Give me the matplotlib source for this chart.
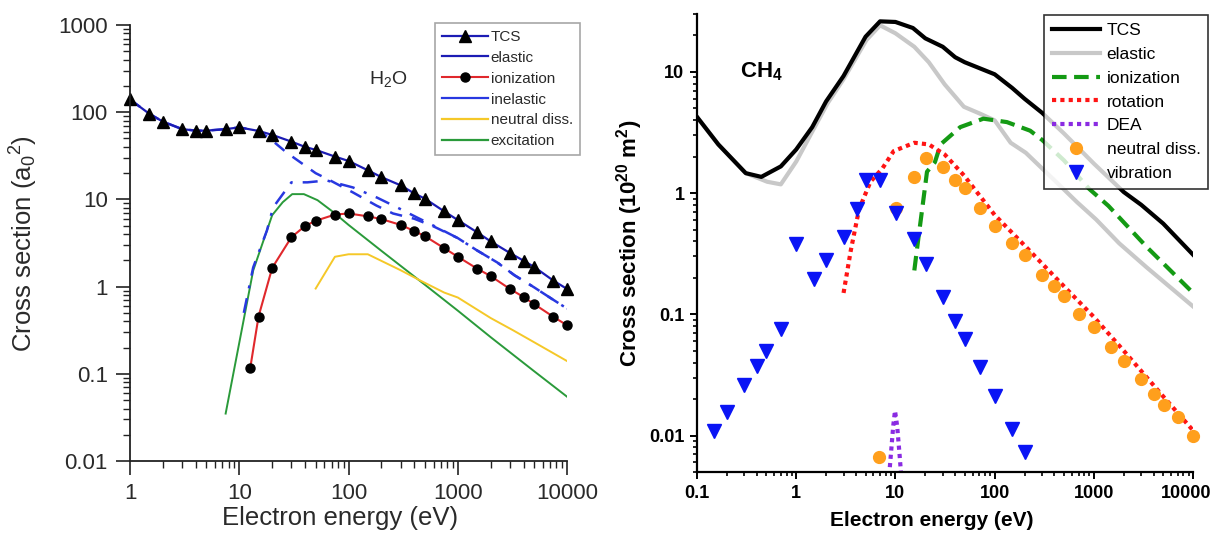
import matplotlib
matplotlib.use("Agg")
import matplotlib.pyplot as plt
from matplotlib.lines import Line2D
from matplotlib.ticker import LogLocator, FuncFormatter, NullFormatter, FixedLocator
from matplotlib.transforms import ScaledTranslation

plt.rcParams['font.family'] = ['Liberation Sans', 'DejaVu Sans']
plt.rcParams['mathtext.fontset'] = 'custom'
plt.rcParams['mathtext.rm'] = 'Liberation Sans'
plt.rcParams['mathtext.it'] = 'Liberation Sans:italic'
plt.rcParams['mathtext.bf'] = 'Liberation Sans:bold'
plt.rcParams['mathtext.default'] = 'regular'

# ---------------- H2O (left panel) ----------------
h2o_tcs_e = [1, 1.5, 2, 3, 4, 5, 7.5, 10, 15, 20, 30, 40, 50, 75, 100, 150, 200,
             300, 400, 500, 750, 1000, 1500, 2000, 3000, 4000, 5000, 7500, 10000]
h2o_tcs = [140, 96, 78, 64, 61.5, 61.5, 64, 67, 61, 55, 46, 40, 37, 31, 27.6, 21.6, 18,
           14.5, 11.7, 10.2, 7.3, 5.8, 4.2, 3.3, 2.43, 1.98, 1.68, 1.17, 0.94]

h2o_el_e = [1, 1.5, 2, 3, 4, 5, 7.5, 10, 15, 19, 27, 50, 68, 110, 180, 255, 400,
            600, 1000, 1500, 2300, 3300, 5000, 7300, 10000]
h2o_el = [140, 96, 78, 64, 61.5, 61.5, 64, 67, 61, 50, 34.6, 20, 16.5, 12, 8.5, 6.9, 6.0,
          4.9, 3.6, 2.6, 1.89, 1.35, 0.98, 0.72, 0.56]

h2o_ion_e = [12.6, 15, 20, 30, 40, 50, 75, 100, 150, 200, 300, 400, 500, 750, 1000,
             1500, 2000, 3000, 4000, 5000, 7500, 10000]
h2o_ion = [0.117, 0.454, 1.64, 3.69, 4.96, 5.69, 6.7, 6.9, 6.4, 5.95, 5.1, 4.34, 3.79, 2.76, 2.2,
           1.61, 1.32, 0.94, 0.76, 0.63, 0.45, 0.36]

h2o_inel_e = [11, 13.4, 17.9, 20.4, 30, 42, 63, 110, 182, 278, 424, 600, 1000, 1500,
              2300, 3300, 5000, 7300, 10000]
h2o_inel = [0.5, 1.66, 4.4, 8.1, 15.7, 15.7, 16.5, 13.7, 10.5, 8.1, 6.2, 5.0, 3.6, 2.6,
            1.89, 1.35, 0.98, 0.72, 0.56]

h2o_nd_e = [50, 75, 100, 150, 300, 456, 750, 1000, 2000, 3200, 5000, 10000]
h2o_nd = [0.95, 2.2, 2.35, 2.35, 1.54, 1.17, 0.855, 0.75, 0.436, 0.316, 0.23, 0.14]

h2o_exc_e = [7.5, 13.4, 20, 25, 30.5, 39, 52, 72, 100, 200, 500, 1000, 2000, 5000, 10000]
h2o_exc = [0.035, 1.53, 6.6, 9.3, 11.5, 11.5, 9.8, 7.2, 5.1, 2.57, 1.05, 0.53, 0.263, 0.107, 0.0546]

# ---------------- CH4 (right panel) ----------------
ch4_tcs_e = [0.1, 0.164, 0.31, 0.445, 0.7, 1.0, 1.45, 2.0, 3.0, 5.0, 7.0, 10, 15, 20, 30,
             40, 50, 100, 150, 200, 300, 500, 1000, 2000, 3000, 5000, 10000]
ch4_tcs = [4.25, 2.52, 1.46, 1.36, 1.66, 2.29, 3.5, 5.7, 9.25, 19.5, 26.1, 25.8, 23, 18.9, 16.1,
           13.2, 12.0, 9.55, 7.37, 6.0, 4.6, 3.1, 1.75, 1.02, 0.8, 0.56, 0.31]

ch4_el_e = [0.1, 0.164, 0.31, 0.51, 0.7, 1.0, 1.5, 2.07, 3.0, 5.1, 7.0, 10, 15.5, 21.7, 31.4,
            49, 70.7, 100, 145, 206, 300, 472, 678, 1055, 1800, 3400, 10000]
ch4_el = [4.25, 2.52, 1.46, 1.24, 1.18, 1.82, 3.38, 5.5, 8.7, 18.3, 24.2, 20.8, 16.1, 12.0, 7.87,
          5.15, 4.53, 3.98, 2.6, 2.15, 1.6, 1.12, 0.84, 0.605, 0.385, 0.244, 0.116]

ch4_ion_e = [15.5, 17, 18, 20.8, 25, 28.5, 45, 77, 133, 228, 300, 500, 889, 1400, 3400, 10000]
ch4_ion = [0.23, 0.42, 0.6, 1.5, 1.8, 2.52, 3.5, 4.11, 3.85, 3.27, 2.75, 1.86, 1.09, 0.785, 0.36, 0.15]

ch4_rot_e = [3.0, 3.55, 4.3, 5.6, 7.4, 9.6, 15.5, 21.7, 31.4, 49, 100, 200, 500, 1000,
             2000, 5000, 10000]
ch4_rot = [0.15, 0.337, 0.736, 1.24, 1.6, 2.22, 2.6, 2.52, 2.08, 1.4, 0.66, 0.37, 0.17, 0.095,
           0.05, 0.021, 0.011]

ch4_dea_e = [8.5, 9.0, 9.5, 9.9, 10.4, 11.0, 11.6]
ch4_dea = [0.004, 0.007, 0.012, 0.016, 0.012, 0.007, 0.004]

ch4_nd_e = [6.9, 10.1, 15.5, 20.3, 30, 40, 50, 70.7, 100, 149, 204, 303, 400, 505, 705,
            1010, 1500, 2020, 3000, 4000, 5050, 7000, 10000]
ch4_nd = [0.0067, 0.75, 1.36, 1.95, 1.63, 1.28, 1.1, 0.76, 0.54, 0.39, 0.31, 0.21, 0.17, 0.142, 0.1,
          0.079, 0.054, 0.041, 0.029, 0.022, 0.018, 0.0142, 0.01]

ch4_vib_e = [0.15, 0.2, 0.3, 0.4, 0.5, 0.7, 1.0, 1.5, 2.0, 3.0, 4.1, 5.0, 7.0, 10.1, 15.5,
             20.3, 30, 40, 50, 70.7, 100, 149, 204]
ch4_vib = [0.011, 0.0157, 0.026, 0.0376, 0.0498, 0.0759, 0.38, 0.195, 0.278, 0.438, 0.736, 1.28,
           1.28, 0.69, 0.42, 0.26, 0.14, 0.0875, 0.0624, 0.0367, 0.021, 0.0114, 0.0073]

ch4_xticks = [0.1, 1, 10, 100, 1000, 10000]


def plain(v, pos):
    return '{:g}'.format(v)


fig = plt.figure(figsize=(12.13, 5.37), dpi=100)

# ---- left ----
txt = '#2a2a2a'
ax1 = fig.add_axes([0.1072, 0.1415, 0.3603, 0.8119])
ax1.set_xscale('log')
ax1.set_yscale('log')
blue = '#1c1cb4'
ax1.plot(h2o_exc_e, h2o_exc, color='#2a9a3a', lw=1.4)
ax1.plot(h2o_nd_e, h2o_nd, color='#f5c828', lw=1.4)
ax1.plot(h2o_inel_e, h2o_inel, color='#2838e0', lw=1.8, ls=(0, (6, 4, 1.2, 4)))
ax1.plot(h2o_el_e, h2o_el, color='#2838e0', lw=1.8, ls=(0, (5, 4)))
ax1.plot(h2o_ion_e, h2o_ion, color='#e0282c', lw=1.5, marker='o', ms=6.5,
         mfc='black', mec='black', clip_on=False)
ax1.plot(h2o_tcs_e, h2o_tcs, color=blue, lw=1.6, marker='^', ms=8,
         mfc='black', mec='black', clip_on=False)
ax1.set_xlim(1, 10000)
ax1.set_ylim(0.01, 1000)
for s in ['top', 'right']:
    ax1.spines[s].set_visible(False)
for s in ['left', 'bottom']:
    ax1.spines[s].set_linewidth(1.3)
    ax1.spines[s].set_color('#222222')
ax1.xaxis.set_major_formatter(FuncFormatter(plain))
ax1.yaxis.set_major_formatter(FuncFormatter(plain))
ax1.xaxis.set_minor_formatter(NullFormatter())
ax1.yaxis.set_minor_formatter(NullFormatter())
ax1.xaxis.set_minor_locator(LogLocator(base=10, subs=range(2, 10), numticks=20))
ax1.yaxis.set_minor_locator(LogLocator(base=10, subs=range(2, 10), numticks=20))
ax1.tick_params(which='major', length=10, width=1.2, labelsize=16, colors='#222222',
                labelcolor=txt, pad=6)
ax1.tick_params(which='minor', length=5, width=1.0, colors='#222222')
ax1.set_xlabel('Electron energy (eV)', fontsize=18.5, color=txt)
ax1.set_ylabel('Cross section (a$_0$$^2$)', fontsize=18.5, color=txt)
ax1.xaxis.set_label_coords(0.48, -0.103)
ax1.yaxis.set_label_coords(-0.205, 0.5)
fig.text(0.32, 0.853, 'H$_2$O', fontsize=14, color=txt, ha='center', va='center')

h1 = [Line2D([], [], color=blue, lw=1.6, marker='^', ms=8, mfc='black', mec='black'),
      Line2D([], [], color=blue, lw=1.6),
      Line2D([], [], color='#e0282c', lw=1.5, marker='o', ms=6.5, mfc='black', mec='black'),
      Line2D([], [], color='#2838e0', lw=1.6),
      Line2D([], [], color='#f5c828', lw=1.6),
      Line2D([], [], color='#2a9a3a', lw=1.6)]
l1 = ['TCS', 'elastic', 'ionization', 'inelastic', 'neutral diss.', 'excitation']
leg1 = fig.legend(h1, l1, loc='upper left', bbox_to_anchor=(0.3586, 0.957),
                  fontsize=11, frameon=True, fancybox=False, numpoints=1,
                  handlelength=3.0, handletextpad=0.2, labelspacing=0.45,
                  borderpad=0.45, borderaxespad=0)
leg1.get_frame().set_edgecolor('#909090')
leg1.get_frame().set_linewidth(1.2)
for t in leg1.get_texts():
    t.set_color(txt)

# ---- right ----
ax2 = fig.add_axes([0.5746, 0.1210, 0.4090, 0.8529])
ax2.set_xscale('log')
ax2.set_yscale('log')
ax2.plot(ch4_el_e, ch4_el, color='#c8c8c8', lw=3, label='elastic')
ax2.plot(ch4_tcs_e, ch4_tcs, color='black', lw=3, label='TCS')
ax2.plot(ch4_ion_e, ch4_ion, color='#149a14', lw=3, ls=(0, (3.5, 1.8)), label='ionization')
ax2.plot(ch4_rot_e, ch4_rot, color='#ff1414', lw=3, ls=(0, (1, 1)), label='rotation')
ax2.plot(ch4_dea_e, ch4_dea, color='#8a2be2', lw=3, ls=(0, (1, 1)), label='DEA')
ax2.plot(ch4_nd_e, ch4_nd, ls='none', marker='o', ms=8.5, color='#ff9f1c',
         label='neutral diss.', clip_on=False)
ax2.plot(ch4_vib_e, ch4_vib, ls='none', marker='v', ms=10, color='#0a14f5',
         label='vibration', clip_on=False)
ax2.set_xlim(0.1, 10000)
ax2.set_ylim(0.005, 30)
for s in ['top', 'right']:
    ax2.spines[s].set_visible(False)
for s in ['left', 'bottom']:
    ax2.spines[s].set_linewidth(1.6)
ax2.xaxis.set_major_locator(FixedLocator(ch4_xticks))
ax2.xaxis.set_major_formatter(FuncFormatter(plain))
ax2.yaxis.set_major_formatter(FuncFormatter(plain))
ax2.xaxis.set_minor_formatter(NullFormatter())
ax2.yaxis.set_minor_formatter(NullFormatter())
ax2.xaxis.set_minor_locator(LogLocator(base=10, subs=range(2, 10), numticks=20))
ax2.yaxis.set_minor_locator(LogLocator(base=10, subs=range(2, 10), numticks=20))
ax2.tick_params(which='major', length=5, width=1.4, labelsize=13, pad=4)
ax2.tick_params(which='minor', length=3, width=1.2)
for lab in ax2.get_xticklabels() + ax2.get_yticklabels():
    lab.set_fontweight('bold')
# nudge the last x label so it stays inside the picture
last = ax2.xaxis.get_major_ticks()[len(ch4_xticks) - 1].label1
last.set_transform(last.get_transform() + ScaledTranslation(-7 / 100, 0, fig.dpi_scale_trans))
ax2.set_xlabel('Electron energy (eV)', fontsize=15, fontweight='bold')
ax2.set_ylabel(r'Cross section (10$^{\mathbf{20}}$ m$^{\mathbf{2}}$)', fontsize=16,
               fontweight='bold')
ax2.xaxis.set_label_coords(0.473, -0.085)
ax2.yaxis.set_label_coords(-0.105, 0.5)
fig.text(0.610, 0.866, r'CH$_{\mathbf{4}}$', fontsize=16, fontweight='bold',
         ha='left', va='center')

order = ['TCS', 'elastic', 'ionization', 'rotation', 'DEA', 'neutral diss.', 'vibration']
hs, ls_ = ax2.get_legend_handles_labels()
hmap = dict(zip(ls_, hs))
leg2 = fig.legend([hmap[k] for k in order], order, loc='upper left',
                  bbox_to_anchor=(0.8607, 0.972), fontsize=12.5, frameon=True,
                  fancybox=False, numpoints=1, handlelength=2.8, handletextpad=0.35,
                  labelspacing=0.5, borderpad=0.45, borderaxespad=0)
leg2.get_frame().set_edgecolor('black')
leg2.get_frame().set_linewidth(1.2)

fig.savefig('out.png', dpi=100)
